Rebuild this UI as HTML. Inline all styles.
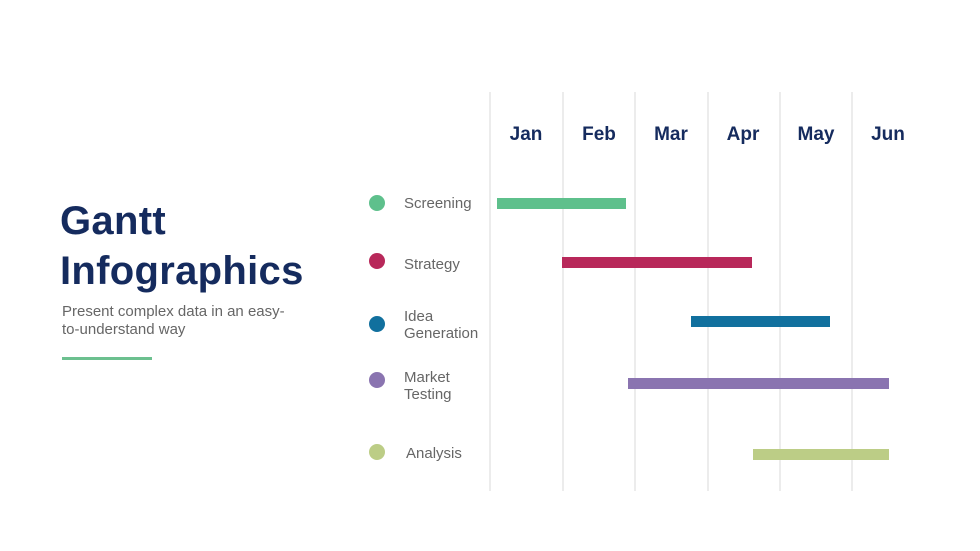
<!DOCTYPE html>
<html><head><style>
body{margin:0;width:980px;height:551px;background:#fff;position:relative;overflow:hidden;font-family:"Liberation Sans",sans-serif}
.a{position:absolute}
.g{position:absolute;top:92px;height:399px;width:2px;background:#ececec}
.m{position:absolute;top:124px;font-weight:bold;font-size:19px;color:#152b5e;width:70px;text-align:center}
.d{position:absolute;left:369px;width:16px;height:16px;border-radius:50%}
.l{position:absolute;left:404px;font-size:15px;color:#666;line-height:17px}
.b{position:absolute;height:11px}
</style></head><body>
<div class="a" style="left:60px;top:196px;font-size:40px;font-weight:bold;color:#152b5e;line-height:50px;letter-spacing:0.3px">Gantt<br>Infographics</div>
<div class="a" style="left:62px;top:303px;font-size:15px;color:#666;line-height:18px;width:250px">Present complex data in an easy-<br>to-understand way</div>
<div class="a" style="left:62px;top:357px;width:90px;height:3px;background:#6cc08f"></div>
<div class="g" style="left:489px"></div><div class="g" style="left:562px"></div><div class="g" style="left:634px"></div><div class="g" style="left:707px"></div><div class="g" style="left:779px"></div><div class="g" style="left:851px"></div>
<div class="m" style="left:491px">Jan</div><div class="m" style="left:564px">Feb</div><div class="m" style="left:636px">Mar</div><div class="m" style="left:708px">Apr</div><div class="m" style="left:781px">May</div><div class="m" style="left:853px">Jun</div>
<div class="d" style="top:195px;background:#5ec08c"></div><div class="l" style="top:195px">Screening</div>
<div class="d" style="top:253px;background:#b8285a"></div><div class="l" style="top:256px">Strategy</div>
<div class="d" style="top:316px;background:#11709e"></div><div class="l" style="top:308px">Idea<br>Generation</div>
<div class="d" style="top:372px;background:#8a74b0"></div><div class="l" style="top:369px">Market<br>Testing</div>
<div class="d" style="top:444px;background:#bccd86"></div><div class="l" style="top:445px;left:406px">Analysis</div>
<div class="b" style="left:497px;width:129px;top:198px;background:#5ec08c"></div>
<div class="b" style="left:562px;width:190px;top:257px;background:#b8285a"></div>
<div class="b" style="left:691px;width:139px;top:316px;background:#11709e"></div>
<div class="b" style="left:628px;width:261px;top:378px;background:#8a74b0"></div>
<div class="b" style="left:753px;width:136px;top:449px;background:#bccd86"></div>
</body></html>
